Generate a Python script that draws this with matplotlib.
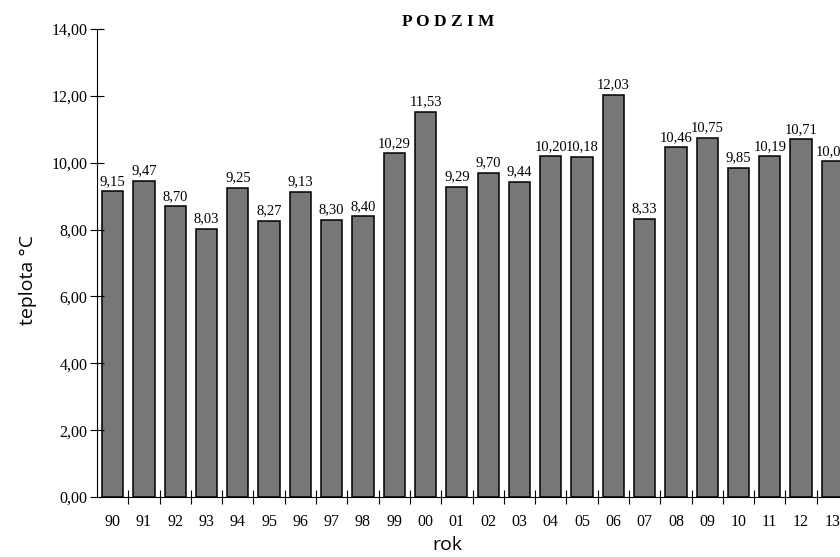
import matplotlib
matplotlib.use("Agg")
import matplotlib.pyplot as plt
import numpy as np

# data
roky = ["90", "91", "92", "93", "94", "95", "96", "97", "98", "99", "00", "01",
        "02", "03", "04", "05", "06", "07", "08", "09", "10", "11", "12", "13"]
teploty = [9.15, 9.47, 8.70, 8.03, 9.25, 8.27, 9.13, 8.30, 8.40, 10.29, 11.53, 9.29,
           9.70, 9.44, 10.20, 10.18, 12.03, 8.33, 10.46, 10.75, 9.85, 10.19, 10.71, 10.05]
y_ticks = [0, 2, 4, 6, 8, 10, 12, 14]

serif = "Liberation Serif"
sans = "Open Sans"

fig = plt.figure(figsize=(8.4, 5.57), dpi=100)
# axes runs a bit past the right edge like in the original
ax = fig.add_axes([0.1155, 0.1077, 0.894, 0.840])

x = np.arange(len(roky))
bars = ax.bar(x, teploty, width=0.68, color="#777777", edgecolor="black", linewidth=1.1)

for xi, v in zip(x, teploty):
    ax.text(xi, v + 0.1, f"{v:.2f}".replace(".", ","), ha="center", va="bottom",
            fontsize=10.5, family=serif)

ax.set_xlim(-0.5, len(roky) - 0.5)
ax.set_ylim(0, 14)
ax.set_yticks(y_ticks)
ax.set_yticklabels([f"{t:.2f}".replace(".", ",") for t in y_ticks], family=serif, fontsize=11.5)

# ticks between bars, labels under the bars
ax.set_xticks(x + 0.5, minor=False)
ax.set_xticklabels([""] * len(x))
ax.set_xticks(x, minor=True)
ax.set_xticklabels(roky, minor=True, family=serif, fontsize=11.5)
ax.tick_params(axis="x", which="major", direction="inout", length=10, width=0.8)
ax.tick_params(axis="x", which="minor", length=0, pad=12)
ax.tick_params(axis="y", direction="inout", length=10, width=0.8, pad=2)

ax.spines["top"].set_visible(False)
ax.spines["right"].set_visible(False)
ax.spines["left"].set_linewidth(0.8)
ax.spines["bottom"].set_linewidth(0.8)

fig.text(0.533, 0.96, "P O D Z I M", ha="center", va="center", fontsize=12.5,
         fontweight="bold", family=serif)
fig.text(0.033, 0.497, "teplota °C", rotation=90, ha="center", va="center",
         fontsize=14, family=sans)
fig.text(0.532, 0.022, "rok", ha="center", va="center", fontsize=14, family=sans)

fig.savefig("out.png", dpi=100)
